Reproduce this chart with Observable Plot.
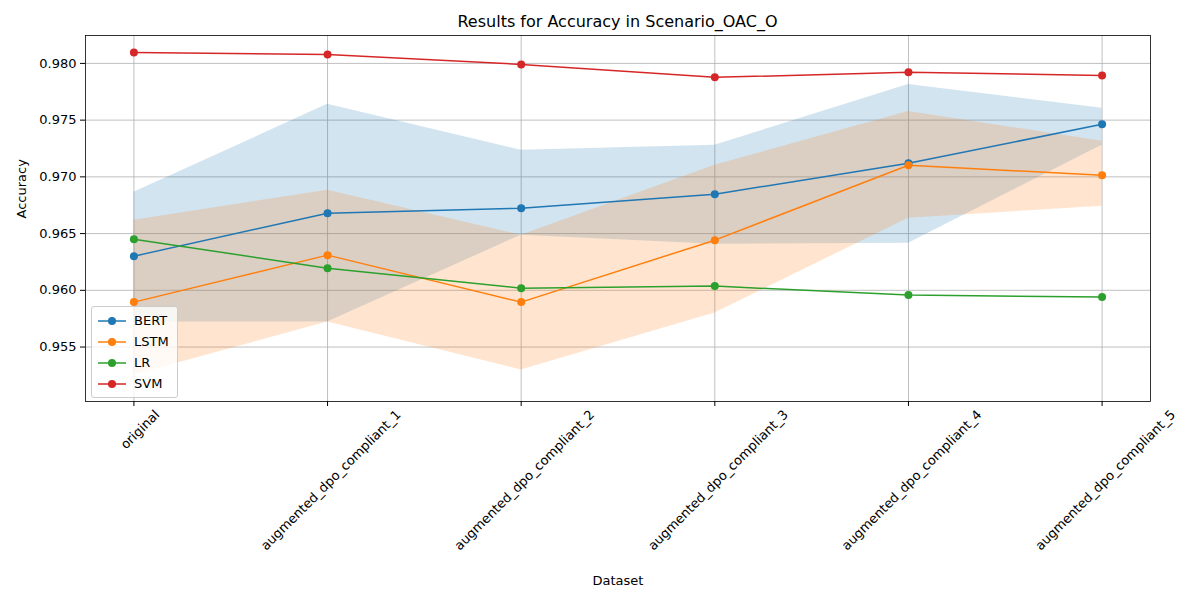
<!DOCTYPE html>
<html><head><meta charset="utf-8">
<script src="https://cdn.jsdelivr.net/npm/d3@7"></script>
<script src="https://cdn.jsdelivr.net/npm/@observablehq/plot@0.6"></script>
<style>
body{margin:0;background:#fff;font-family:"DejaVu Sans",sans-serif}
#wrap{position:relative;width:1200px;height:600px}
#title{position:absolute;top:12px;left:85px;width:1065px;text-align:center;font-size:16px}
#legend{position:absolute;left:91px;top:306px;border:1px solid #ccc;border-radius:3px;background:rgba(255,255,255,0.8);padding:3px 8px 3px 6px;font-size:13px}
#legend div{display:flex;align-items:center;height:21px}
#legend svg{margin-right:8px}
</style></head><body>
<div id="wrap"><div id="chart"></div><div id="title">Results for Accuracy in Scenario_OAC_O</div><div id="legend"></div></div>
<script>
const datasets = ['original','augmented_dpo_compliant_1','augmented_dpo_compliant_2','augmented_dpo_compliant_3','augmented_dpo_compliant_4','augmented_dpo_compliant_5']
const models = ['BERT','LSTM','LR','SVM']
const colors = ['#1f77b4','#ff7f0e','#2ca02c','#d62728']
const bert = [0.96301,0.96680,0.96724,0.96847,0.97120,0.97463]
const lstm = [0.95896,0.96310,0.95896,0.96442,0.97102,0.97014]
const lr = [0.96451,0.96195,0.96019,0.96037,0.95958,0.95940]
const svm = [0.98097,0.98079,0.97991,0.97877,0.97921,0.97894]
const bertHi = [0.96864,0.97639,0.97234,0.97278,0.97815,0.97604]
const bertLo = [0.95720,0.95720,0.96486,0.96407,0.96415,0.97278]
const lstmHi = [0.96618,0.96882,0.96486,0.97102,0.97577,0.97313]
const lstmLo = [0.95253,0.95720,0.95298,0.95799,0.96636,0.96741]

const series = [bert, lstm, lr, svm]
const rows = series.flatMap((s, k) => s.map((v, i) => ({i, v, model: models[k]})))
const bands = [[bertLo, bertHi, colors[0]], [lstmLo, lstmHi, colors[1]]]
  .map(([lo, hi, c]) => ({c, d: lo.map((l, i) => ({i, lo: l, hi: hi[i]}))}))

// rotated labels are centred under the tick like matplotlib: shift the end by half the text width
const pxPerUnit = 1065 / 5.5
const labelX = (d, i) => i + (2.8 * d.length + 4) / pxPerUnit

const chart = Plot.plot({
  width: 1200, height: 600,
  marginLeft: 85, marginRight: 50, marginTop: 35, marginBottom: 199,
  style: {fontFamily: '"DejaVu Sans", sans-serif', fontSize: '13px', background: 'white'},
  x: {domain: [-0.25, 5.25], ticks: d3.range(6), tickFormat: () => '', tickSize: 5, label: null},
  y: {domain: [0.9502, 0.98246], ticks: d3.range(0.955, 0.9801, 0.005), tickFormat: d3.format('.3f'), tickSize: 5, label: null},
  color: {domain: models, range: colors},
  marks: [
    Plot.gridX(d3.range(6), {stroke: '#b0b0b0', strokeOpacity: 1, strokeWidth: 0.8}),
    Plot.gridY(d3.range(0.955, 0.9801, 0.005), {stroke: '#b0b0b0', strokeOpacity: 1, strokeWidth: 0.8}),
    ...bands.map(b => Plot.areaY(b.d, {x: 'i', y1: 'lo', y2: 'hi', fill: b.c, fillOpacity: 0.2})),
    Plot.line(rows, {x: 'i', y: 'v', stroke: 'model', strokeWidth: 1.5}),
    Plot.dot(rows, {x: 'i', y: 'v', fill: 'model', r: 4}),
    Plot.frame({stroke: 'black', strokeWidth: 0.8}),
    Plot.axisX({ticks: d3.range(6), tickFormat: () => '', tickSize: 5, label: null}),
    Plot.text(datasets, {x: labelX, frameAnchor: 'bottom', text: d => d, rotate: -45,
      textAnchor: 'end', dy: 14, fontSize: 13, fill: 'black', clip: false}),
    Plot.text(['Dataset'], {frameAnchor: 'bottom', dy: 183, fontSize: 13, fill: 'black'}),
    Plot.text(['Accuracy'], {frameAnchor: 'left', dx: -64, rotate: -90, fontSize: 13, fill: 'black'})
  ]
})
document.getElementById('chart').append(chart)

const leg = document.getElementById('legend')
models.forEach((m, k) => {
  leg.insertAdjacentHTML('beforeend', `<div><svg width="28" height="10"><line x1="0" x2="28" y1="5" y2="5" stroke="${colors[k]}" stroke-width="1.5"/><circle cx="14" cy="5" r="4" fill="${colors[k]}"/></svg>${m}</div>`)
})
</script></body></html>
